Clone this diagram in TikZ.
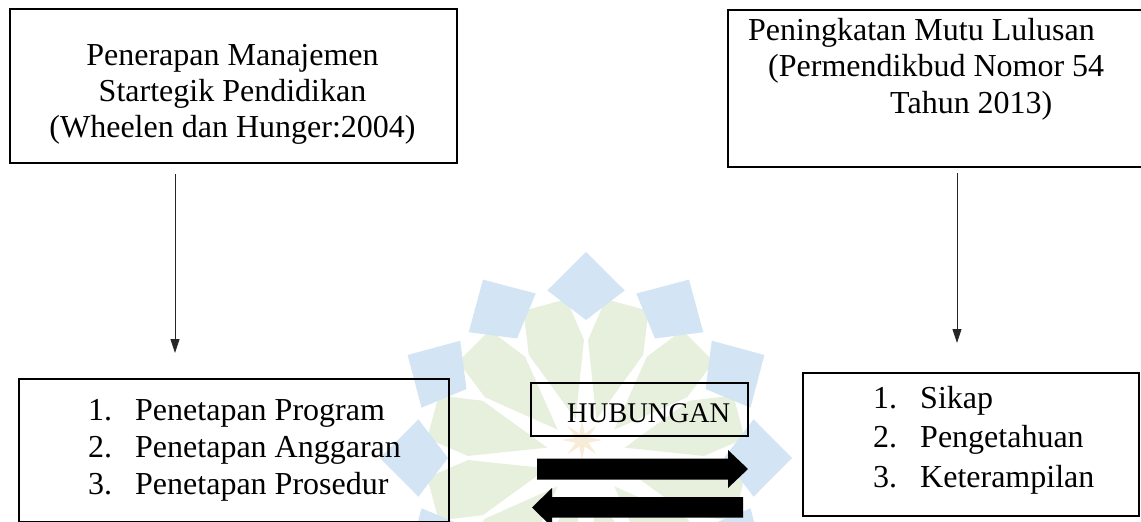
\documentclass[tikz,border=0pt]{standalone}
\usepackage{fontspec}
\setmainfont{Liberation Serif}
\usetikzlibrary{arrows.meta,calc}
\definecolor{wmblue}{HTML}{D3E4F4}
\definecolor{wmgreen}{HTML}{E6F0DC}
\definecolor{wmorange}{HTML}{F8EBD8}
\begin{document}
\begin{tikzpicture}[x=1pt,y=-1pt,
  box/.style={draw=black, line width=2pt, inner sep=0pt, anchor=north west},
  txt/.style={inner sep=0pt, font=\fontsize{32}{37}\selectfont},
  smalltxt/.style={inner sep=0pt, font=\fontsize{28.5}{33}\selectfont},
  conn/.style={draw=black!85, line width=0.8pt, -{Triangle[length=14pt,width=9pt]}},
  bigarrow/.style={fill=black}]
\useasboundingbox (0,0) rectangle (1141,522);
% faint watermark logo
\begin{scope}[shift={(586,458)}]
  \foreach \a in {15,45,...,345}{
    \fill[wmgreen] (\a:40) -- (\a-14:118) -- (\a-8:160) -- (\a+8:160) -- (\a+14:118) -- cycle;
  }
  \foreach \a in {0,30,...,330}{
    \fill[wmblue] (\a-13:172) -- (\a:206) -- (\a+13:172) -- (\a:138) -- cycle;
  }
\end{scope}
\begin{scope}[shift={(582,440)}]
  \fill[wmorange] (90:20) -- (112.5:7) -- (135:20) -- (157.5:7) -- (180:20) -- (202.5:7)
    -- (225:20) -- (247.5:7) -- (270:20) -- (292.5:7) -- (315:20) -- (337.5:7)
    -- (0:20) -- (22.5:7) -- (45:20) -- (67.5:7) -- cycle;
\end{scope}
% boxes
\node[box, minimum width=447pt, minimum height=154pt] (tl) at (9,8) {};
\node[box, minimum width=425pt, minimum height=157pt] (tr) at (727,9) {};
\node[box, minimum width=430pt, minimum height=143pt] (bl) at (18,378) {};
\node[box, minimum width=336pt, minimum height=143pt] (br) at (802,372) {};
\node[box, minimum width=217pt, minimum height=53pt] (hb) at (530,382) {};
% texts
\node[txt, anchor=base] (tl1) at (232.5,65) {Penerapan Manajemen};
\node[txt, anchor=base] (tl2) at (232.5,101) {Startegik Pendidikan};
\node[txt, anchor=base] (tl3) at (232.5,137) {(Wheelen dan Hunger:2004)};
\node[txt, anchor=base west] (tr1) at (748,40) {Peningkatan Mutu Lulusan};
\node[txt, anchor=base west] (tr2) at (768,76) {(Permendikbud Nomor 54};
\node[txt, anchor=base west] (tr3) at (890,113) {Tahun 2013)};
\node[txt, anchor=base west] (bln1) at (88,420) {1.};
\node[txt, anchor=base west] (bln2) at (88,457) {2.};
\node[txt, anchor=base west] (bln3) at (88,494) {3.};
\node[txt, anchor=base west] (bl1) at (135,420) {Penetapan Program};
\node[txt, anchor=base west] (bl2) at (135,457) {Penetapan Anggaran};
\node[txt, anchor=base west] (bl3) at (135,494) {Penetapan Prosedur};
\node[txt, anchor=base west] (brn1) at (873,408) {1.};
\node[txt, anchor=base west] (brn2) at (873,447) {2.};
\node[txt, anchor=base west] (brn3) at (873,487) {3.};
\node[txt, anchor=base west] (br1) at (920,408) {Sikap};
\node[txt, anchor=base west] (br2) at (920,447) {Pengetahuan};
\node[txt, anchor=base west] (br3) at (920,487) {Keterampilan};
\node[smalltxt, anchor=base west] (hbt) at (567,422) {HUBUNGAN};
% connectors
\coordinate (aL) at (175,0);
\coordinate (aR) at (957,0);
\draw[conn, shorten <=10pt, shorten >=25pt] (tl.south -| aL) -- (bl.north -| aL);
\draw[conn, shorten <=5pt, shorten >=29pt] (tr.south -| aR) -- (br.north -| aR);
% big arrows
\fill[bigarrow] (537,458.5) -- (728,458.5) -- (728,450) -- (748,469) -- (728,488) -- (728,479.5) -- (537,479.5) -- cycle;
\fill[bigarrow] (743,497) -- (552,497) -- (552,488) -- (532,507.5) -- (552,527) -- (552,517.5) -- (743,517.5) -- cycle;
\end{tikzpicture}
\end{document}
